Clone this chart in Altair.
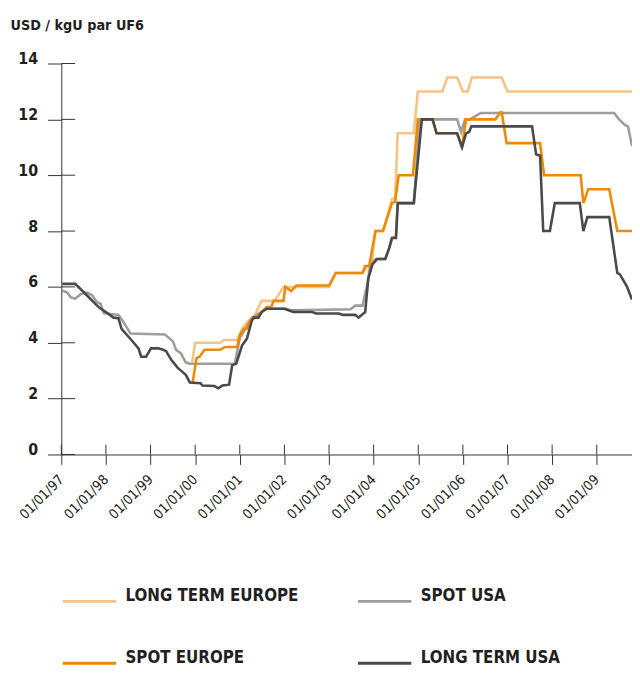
import json
import altair as alt
import pandas as pd

FONT = "'Liberation Sans Narrow', 'Arial Narrow', 'DejaVu Sans Condensed', sans-serif"
TEXT = "#231F20"
AXIS = "#333333"

series_names = ["LONG TERM EUROPE", "SPOT USA", "SPOT EUROPE", "LONG TERM USA"]
series_colors = ["#F6C385", "#9D9D9D", "#EE8A00", "#4A4A4A"]

# LONG TERM EUROPE
lte_year = [1999.93, 2000.0, 2000.56, 2000.65, 2000.94, 2001.05, 2001.2, 2001.34, 2001.49,
            2001.78, 2001.98, 2002.27, 2003.0, 2003.15, 2003.75, 2003.86, 2003.95, 2004.04,
            2004.21, 2004.41, 2004.48, 2004.54, 2004.9, 2004.99, 2005.54, 2005.65, 2005.87,
            2006.0, 2006.11, 2006.2, 2006.87, 2007.0, 2009.79]
lte_val = [3.3, 4.0, 4.0, 4.1, 4.1, 4.5, 4.8, 5.0, 5.5,
           5.5, 6.0, 6.0, 6.0, 6.5, 6.5, 6.75, 6.75, 8.0,
           8.0, 9.15, 9.2, 11.5, 11.5, 13.0, 13.0, 13.5, 13.5,
           13.0, 13.0, 13.5, 13.5, 13.0, 13.0]

# SPOT USA
su_year = [1997.02, 1997.13, 1997.22, 1997.31, 1997.44, 1997.58, 1997.69, 1997.8, 1997.88,
           1997.95, 1998.28, 1998.39, 1998.55, 1999.32, 1999.5, 1999.57, 1999.68, 1999.79,
           1999.88, 2000.89, 2001.0, 2001.27, 2001.38, 2001.6, 2002.04, 2002.15, 2003.48,
           2003.59, 2003.75, 2003.86, 2003.92, 2004.04, 2004.26, 2004.35, 2004.41, 2004.5,
           2004.54, 2004.9, 2005.03, 2005.87, 2005.96, 2006.05, 2006.16, 2006.4, 2009.39,
           2009.5, 2009.63, 2009.7, 2009.79]
su_val = [5.87, 5.8, 5.62, 5.58, 5.75, 5.8, 5.7, 5.45, 5.4,
          5.06, 5.0, 4.75, 4.33, 4.3, 4.05, 3.75, 3.62, 3.3,
          3.25, 3.25, 4.17, 4.88, 5.0, 5.22, 5.22, 5.16, 5.2,
          5.33, 5.33, 6.1, 6.75, 7.0, 7.0, 7.4, 7.75, 7.8,
          9.0, 9.0, 12.0, 12.0, 11.55, 12.0, 12.0, 12.23, 12.23,
          12.0, 11.8, 11.75, 11.05]

# SPOT EUROPE
se_year = [1999.94, 2000.03, 2000.1, 2000.21, 2000.56, 2000.67, 2000.94, 2001.0, 2001.09,
           2001.16, 2001.23, 2001.34, 2001.42, 2001.6, 2001.71, 2001.76, 2001.98, 2002.02,
           2002.15, 2002.27, 2003.0, 2003.15, 2003.75, 2003.81, 2003.9, 2004.04, 2004.21,
           2004.41, 2004.48, 2004.56, 2004.88, 2004.99, 2005.32, 2005.41, 2005.87, 2005.98,
           2006.07, 2006.73, 2006.84, 2006.87, 2006.98, 2007.73, 2007.82, 2008.64, 2008.7,
           2008.81, 2009.28, 2009.46, 2009.79]
se_val = [2.55, 3.45, 3.5, 3.75, 3.75, 3.85, 3.85, 4.27, 4.5,
          4.5, 4.78, 4.9, 5.0, 5.27, 5.3, 5.5, 5.5, 6.0,
          5.85, 6.05, 6.05, 6.5, 6.5, 6.75, 6.75, 8.0, 8.0,
          9.0, 9.05, 10.0, 10.0, 12.0, 12.0, 11.5, 11.5, 11.0,
          12.0, 12.0, 12.25, 12.25, 11.15, 11.15, 10.0, 10.0, 9.0,
          9.5, 9.5, 8.0, 8.0]

# LONG TERM USA
ltu_year = [1997.02, 1997.31, 1997.51, 1997.84, 1998.0, 1998.17, 1998.28, 1998.35, 1998.57,
            1998.73, 1998.79, 1998.9, 1999.01, 1999.17, 1999.28, 1999.35, 1999.46, 1999.61,
            1999.72, 1999.79, 1999.88, 2000.12, 2000.16, 2000.43, 2000.52, 2000.61, 2000.76,
            2000.83, 2000.92, 2001.05, 2001.16, 2001.27, 2001.31, 2001.42, 2001.49, 2001.6,
            2002.0, 2002.2, 2002.62, 2002.71, 2003.22, 2003.31, 2003.59, 2003.66, 2003.81,
            2003.88, 2003.97, 2004.08, 2004.26, 2004.35, 2004.41, 2004.5, 2004.54, 2004.9,
            2005.08, 2005.32, 2005.41, 2005.87, 2005.98, 2006.07, 2006.14, 2006.19, 2007.55,
            2007.64, 2007.73, 2007.8, 2007.95, 2008.06, 2008.62, 2008.7, 2008.79, 2009.28,
            2009.46, 2009.52, 2009.68, 2009.79]
ltu_val = [6.11, 6.11, 5.8, 5.27, 5.1, 4.9, 4.88, 4.5, 4.1,
           3.8, 3.5, 3.5, 3.8, 3.8, 3.75, 3.7, 3.4, 3.1,
           2.95, 2.85, 2.58, 2.55, 2.47, 2.45, 2.37, 2.47, 2.5,
           3.2, 3.25, 3.9, 4.15, 4.8, 4.9, 4.9, 5.1, 5.22,
           5.22, 5.1, 5.1, 5.05, 5.05, 5.0, 5.0, 4.9, 5.1,
           6.3, 6.8, 7.0, 7.0, 7.4, 7.75, 7.75, 9.0, 9.0,
           12.0, 12.0, 11.5, 11.5, 11.0, 11.5, 11.55, 11.75, 11.75,
           10.75, 10.7, 8.0, 8.0, 9.0, 9.0, 8.0, 8.5, 8.5,
           6.5, 6.45, 6.0, 5.55]

tick_years = list(range(1997, 2010))
tick_labels = ["01/01/97", "01/01/98", "01/01/99", "01/01/00", "01/01/01", "01/01/02",
               "01/01/03", "01/01/04", "01/01/05", "01/01/06", "01/01/07", "01/01/08",
               "01/01/09"]
y_ticks = [0, 2, 4, 6, 8, 10, 12, 14]

rows = []
for name, xs, ys in [(series_names[0], lte_year, lte_val),
                     (series_names[1], su_year, su_val),
                     (series_names[2], se_year, se_val),
                     (series_names[3], ltu_year, ltu_val)]:
    for i, (x, y) in enumerate(zip(xs, ys)):
        rows.append({"series": name, "year": x, "value": y, "idx": i})
df = pd.DataFrame(rows)

label_expr = json.dumps(tick_labels) + "[round(datum.value) - 1997]"

xscale = alt.Scale(domain=[1997, 2009.79], nice=False, zero=False)
yscale = alt.Scale(domain=[0, 14], nice=False, zero=True)

lines = alt.Chart(df).mark_line(strokeWidth=2.6).encode(
    x=alt.X("year:Q", scale=xscale,
            axis=alt.Axis(values=tick_years, labelExpr=label_expr, labelAngle=315,
                          labelAlign="right", labelBaseline="middle", labelPadding=13,
                          labelFont=FONT, labelFontSize=14, labelColor=TEXT,
                          labelOverlap=False, labelFlush=False, labelBound=False,
                          tickSize=10, tickColor=AXIS, domainColor=AXIS, grid=False,
                          title=None)),
    y=alt.Y("value:Q", scale=yscale,
            axis=alt.Axis(values=y_ticks, tickSize=14, tickColor=AXIS, domainColor=AXIS,
                          labelPadding=10, labelFont=FONT, labelFontSize=16,
                          labelFontWeight="bold", labelColor=TEXT,
                          labelBaseline="alphabetic", grid=False,
                          title="USD / kgU par UF6", titleAngle=0, titleX=-52, titleY=-34,
                          titleAlign="left", titleBaseline="alphabetic", titleFont=FONT,
                          titleFontSize=14.5, titleFontWeight="bold", titleColor=TEXT)),
    color=alt.Color("series:N", sort=series_names,
                    scale=alt.Scale(domain=series_names, range=series_colors),
                    legend=alt.Legend(orient="none", legendX=0, legendY=516, columns=2,
                                      direction="horizontal",
                                      title=None, symbolType="stroke", symbolSize=2916,
                                      symbolStrokeWidth=3, labelFont=FONT, labelFontSize=17,
                                      labelFontWeight="bold", labelColor=TEXT,
                                      labelBaseline="alphabetic",
                                      labelOffset=8, columnPadding=53, rowPadding=28,
                                      labelLimit=400, padding=0)),
    order="idx:Q",
)

xt = alt.Chart(pd.DataFrame({"year": tick_years})).mark_rule(color=AXIS, strokeWidth=1).encode(
    x="year:Q", y=alt.value(386), y2=alt.value(396))
yt = alt.Chart(pd.DataFrame({"value": y_ticks})).mark_rule(color=AXIS, strokeWidth=1).encode(
    y="value:Q", x=alt.value(0), x2=alt.value(14))

chart = alt.layer(lines, xt, yt).properties(
    width=578, height=396,
    autosize=alt.AutoSizeParams(type="none"),
    padding={"left": 54, "top": 52, "right": 0, "bottom": 210},
).configure_view(stroke=None)

chart.save("out.html", embed_options={"renderer": "svg", "actions": False})
